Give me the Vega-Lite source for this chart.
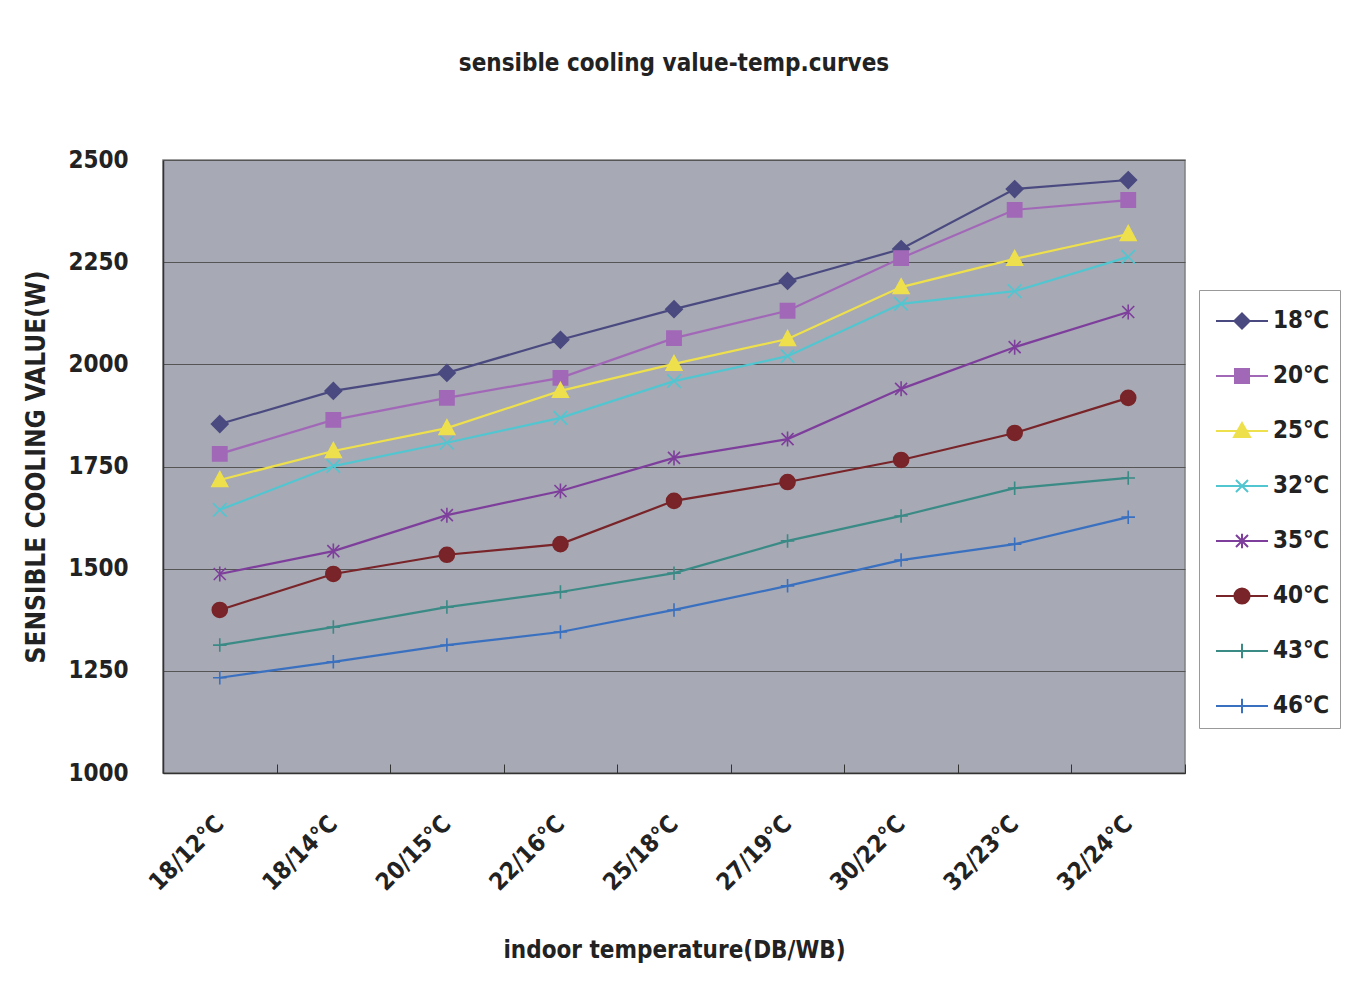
{
 "$schema": "https://vega.github.io/schema/vega-lite/v6.json",
 "width": 1022,
 "height": 613,
 "autosize": "none",
 "padding": {"left": 163, "top": 160, "right": 166, "bottom": 218},
 "background": "white",
 "title": {"text": "sensible cooling value-temp.curves", "fontSize": 24, "fontWeight": "bold", "color": "#222", "offset": 72, "anchor": "middle"},
 "config": {
  "view": {"fill": "#a7a9b4", "stroke": "#808080", "strokeWidth": 1.5},
  "font": "'Liberation Sans Narrow', 'DejaVu Sans Condensed', sans-serif"
 },
 "data": {"values": [
  {"t": "18/12℃", "s": "18℃", "v": 1854}, {"t": "18/14℃", "s": "18℃", "v": 1935}, {"t": "20/15℃", "s": "18℃", "v": 1979}, {"t": "22/16℃", "s": "18℃", "v": 2060}, {"t": "25/18℃", "s": "18℃", "v": 2135}, {"t": "27/19℃", "s": "18℃", "v": 2204}, {"t": "30/22℃", "s": "18℃", "v": 2282}, {"t": "32/23℃", "s": "18℃", "v": 2429}, {"t": "32/24℃", "s": "18℃", "v": 2451},
  {"t": "18/12℃", "s": "20℃", "v": 1781}, {"t": "18/14℃", "s": "20℃", "v": 1864}, {"t": "20/15℃", "s": "20℃", "v": 1918}, {"t": "22/16℃", "s": "20℃", "v": 1967}, {"t": "25/18℃", "s": "20℃", "v": 2064}, {"t": "27/19℃", "s": "20℃", "v": 2131}, {"t": "30/22℃", "s": "20℃", "v": 2260}, {"t": "32/23℃", "s": "20℃", "v": 2378}, {"t": "32/24℃", "s": "20℃", "v": 2402},
  {"t": "18/12℃", "s": "25℃", "v": 1717}, {"t": "18/14℃", "s": "25℃", "v": 1788}, {"t": "20/15℃", "s": "25℃", "v": 1844}, {"t": "22/16℃", "s": "25℃", "v": 1935}, {"t": "25/18℃", "s": "25℃", "v": 2001}, {"t": "27/19℃", "s": "25℃", "v": 2062}, {"t": "30/22℃", "s": "25℃", "v": 2189}, {"t": "32/23℃", "s": "25℃", "v": 2258}, {"t": "32/24℃", "s": "25℃", "v": 2319},
  {"t": "18/12℃", "s": "32℃", "v": 1644}, {"t": "18/14℃", "s": "32℃", "v": 1751}, {"t": "20/15℃", "s": "32℃", "v": 1808}, {"t": "22/16℃", "s": "32℃", "v": 1869}, {"t": "25/18℃", "s": "32℃", "v": 1959}, {"t": "27/19℃", "s": "32℃", "v": 2020}, {"t": "30/22℃", "s": "32℃", "v": 2148}, {"t": "32/23℃", "s": "32℃", "v": 2179}, {"t": "32/24℃", "s": "32℃", "v": 2263},
  {"t": "18/12℃", "s": "35℃", "v": 1487}, {"t": "18/14℃", "s": "35℃", "v": 1543}, {"t": "20/15℃", "s": "35℃", "v": 1631}, {"t": "22/16℃", "s": "35℃", "v": 1690}, {"t": "25/18℃", "s": "35℃", "v": 1771}, {"t": "27/19℃", "s": "35℃", "v": 1817}, {"t": "30/22℃", "s": "35℃", "v": 1940}, {"t": "32/23℃", "s": "35℃", "v": 2042}, {"t": "32/24℃", "s": "35℃", "v": 2128},
  {"t": "18/12℃", "s": "40℃", "v": 1399}, {"t": "18/14℃", "s": "40℃", "v": 1487}, {"t": "20/15℃", "s": "40℃", "v": 1534}, {"t": "22/16℃", "s": "40℃", "v": 1560}, {"t": "25/18℃", "s": "40℃", "v": 1666}, {"t": "27/19℃", "s": "40℃", "v": 1712}, {"t": "30/22℃", "s": "40℃", "v": 1766}, {"t": "32/23℃", "s": "40℃", "v": 1832}, {"t": "32/24℃", "s": "40℃", "v": 1918},
  {"t": "18/12℃", "s": "43℃", "v": 1313}, {"t": "18/14℃", "s": "43℃", "v": 1357}, {"t": "20/15℃", "s": "43℃", "v": 1406}, {"t": "22/16℃", "s": "43℃", "v": 1443}, {"t": "25/18℃", "s": "43℃", "v": 1489}, {"t": "27/19℃", "s": "43℃", "v": 1568}, {"t": "30/22℃", "s": "43℃", "v": 1629}, {"t": "32/23℃", "s": "43℃", "v": 1697}, {"t": "32/24℃", "s": "43℃", "v": 1722},
  {"t": "18/12℃", "s": "46℃", "v": 1233}, {"t": "18/14℃", "s": "46℃", "v": 1272}, {"t": "20/15℃", "s": "46℃", "v": 1313}, {"t": "22/16℃", "s": "46℃", "v": 1345}, {"t": "25/18℃", "s": "46℃", "v": 1399}, {"t": "27/19℃", "s": "46℃", "v": 1458}, {"t": "30/22℃", "s": "46℃", "v": 1521}, {"t": "32/23℃", "s": "46℃", "v": 1560}, {"t": "32/24℃", "s": "46℃", "v": 1626}
 ]},
 "encoding": {
  "x": {"field": "t", "type": "ordinal",
   "sort": ["18/12℃", "18/14℃", "20/15℃", "22/16℃", "25/18℃", "27/19℃", "30/22℃", "32/23℃", "32/24℃"],
   "scale": {"type": "band", "paddingInner": 0, "paddingOuter": 0},
   "axis": {"title": "indoor temperature(DB/WB)", "labelAngle": -45, "labelAlign": "right", "labelBaseline": "middle", "tickBand": "extent", "tickSize": -9, "tickColor": "#333", "tickWidth": 1, "labelPadding": 56, "labelFontSize": 24, "labelFontWeight": "bold", "labelColor": "#222", "titleFontSize": 24, "titleFontWeight": "bold", "titleColor": "#222", "titlePadding": 43, "domainColor": "#333", "domainWidth": 1.5, "grid": false}
  },
  "y": {"field": "v", "type": "quantitative",
   "scale": {"domain": [1000, 2500], "nice": false, "zero": false},
   "axis": {"values": [1000, 1250, 1500, 1750, 2000, 2250, 2500], "format": "d", "title": "SENSIBLE COOLING VALUE(W)", "grid": true, "gridColor": "#555", "gridWidth": 1, "ticks": false, "labelPadding": 35, "labelFontSize": 24, "labelFontWeight": "bold", "labelColor": "#222", "titleFontSize": 26, "titleFontWeight": "bold", "titleColor": "#222", "titlePadding": 18, "domainColor": "#333", "domainWidth": 1.5}
  }
 },
 "layer": [
  {
   "mark": {"type": "line", "strokeWidth": 2.2},
   "encoding": {
    "color": {"field": "s", "type": "nominal",
     "scale": {"domain": ["18℃", "20℃", "25℃", "32℃", "35℃", "40℃", "43℃", "46℃"], "range": ["#4a4a80", "#a268b8", "#eee04c", "#52c6d0", "#7e3e9c", "#782428", "#3a8a86", "#3a70c0"]},
     "legend": {"title": null, "orient": "none", "legendX": 1036, "legendY": 130, "strokeColor": "#999", "fillColor": "white", "padding": 10, "symbolOffset": 12, "labelOffset": 10, "rowPadding": 22, "labelFontSize": 24, "labelFontWeight": "bold", "labelColor": "#222", "symbolSize": 1600, "symbolStrokeWidth": 2,
      "encode": {"symbols": {"update": {
       "shape": {"signal": "{'18℃':'M-1.3,0H1.3M0,-0.38L0.38,0L0,0.38L-0.38,0Z','20℃':'M-1.3,0H1.3M-0.35,-0.35H0.35V0.35H-0.35Z','25℃':'M-1.3,0H1.3M0,-0.4L0.4,0.3H-0.4Z','32℃':'M-1.3,0H1.3M-0.3,-0.3L0.3,0.3M-0.3,0.3L0.3,-0.3','35℃':'M-1.3,0H1.3M-0.3,-0.3L0.3,0.3M-0.3,0.3L0.3,-0.3M0,-0.36V0.36','40℃':'M-1.3,0H1.3M-0.38,0A0.38,0.38 0 1,0 0.38,0A0.38,0.38 0 1,0 -0.38,0Z','43℃':'M-1.3,0H1.3M0,-0.36V0.36','46℃':'M-1.3,0H1.3M0,-0.36V0.36'}[datum.value]"},
       "fill": {"scale": "color", "field": "value"},
       "stroke": {"scale": "color", "field": "value"},
       "strokeWidth": {"value": 2},
       "size": {"value": 1600},
       "opacity": {"value": 1}
      }}}
     }
    }
   }
  },
  {"transform": [{"filter": "datum.s == '18℃'"}], "mark": {"type": "point", "filled": true, "opacity": 1, "size": 225, "strokeWidth": 1.6, "fill": "#4a4a80", "stroke": "#4a4a80", "shape": "M0,-1.1L1.1,0L0,1.1L-1.1,0Z"}},
  {"transform": [{"filter": "datum.s == '20℃'"}], "mark": {"type": "point", "filled": true, "opacity": 1, "size": 225, "strokeWidth": 1.6, "fill": "#a268b8", "stroke": "#a268b8", "shape": "M-0.95,-0.95H0.95V0.95H-0.95Z"}},
  {"transform": [{"filter": "datum.s == '25℃'"}], "mark": {"type": "point", "filled": true, "opacity": 1, "size": 225, "strokeWidth": 1.6, "fill": "#eee04c", "stroke": "#eee04c", "shape": "M0,-1.1L1.05,0.85H-1.05Z"}},
  {"transform": [{"filter": "datum.s == '32℃'"}], "mark": {"type": "point", "filled": true, "opacity": 1, "size": 225, "strokeWidth": 1.6, "fill": "#52c6d0", "stroke": "#52c6d0", "shape": "M-0.9,-0.9L0.9,0.9M-0.9,0.9L0.9,-0.9"}},
  {"transform": [{"filter": "datum.s == '35℃'"}], "mark": {"type": "point", "filled": true, "opacity": 1, "size": 225, "strokeWidth": 1.6, "fill": "#7e3e9c", "stroke": "#7e3e9c", "shape": "M-0.8,-0.8L0.8,0.8M-0.8,0.8L0.8,-0.8M0,-1V1"}},
  {"transform": [{"filter": "datum.s == '40℃'"}], "mark": {"type": "point", "filled": true, "opacity": 1, "size": 225, "strokeWidth": 1.6, "fill": "#782428", "stroke": "#782428", "shape": "M-1,0A1,1 0 1,0 1,0A1,1 0 1,0 -1,0Z"}},
  {"transform": [{"filter": "datum.s == '43℃'"}], "mark": {"type": "point", "filled": true, "opacity": 1, "size": 225, "strokeWidth": 1.6, "fill": "#3a8a86", "stroke": "#3a8a86", "shape": "M0,-0.9V0.9M-0.9,0H0.9"}},
  {"transform": [{"filter": "datum.s == '46℃'"}], "mark": {"type": "point", "filled": true, "opacity": 1, "size": 225, "strokeWidth": 1.6, "fill": "#3a70c0", "stroke": "#3a70c0", "shape": "M0,-0.9V0.9M-0.9,0H0.9"}}
 ]
}
